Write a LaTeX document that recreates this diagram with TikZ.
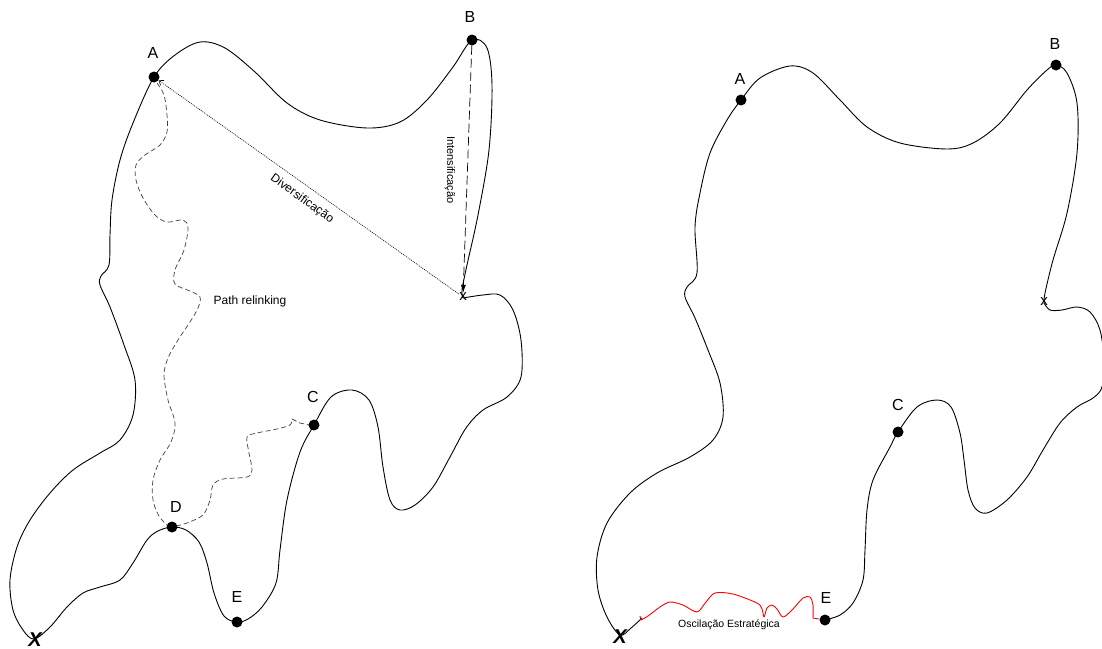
\documentclass[tikz,border=0pt]{standalone}
\usepackage{fontspec}
\setmainfont{Liberation Sans}
\usetikzlibrary{arrows.meta}
\begin{document}
\begin{tikzpicture}[x=1pt,y=-1pt,
  dotnode/.style={circle, fill=black, inner sep=0pt, minimum size=11pt},
  lbl/.style={font=\fontsize{16}{18}\selectfont, inner sep=0pt},
  xmark/.style={font=\fontsize{15}{16}\selectfont, inner sep=0pt},
  bigx/.style={font=\fontsize{20}{22}\selectfont\bfseries\itshape, inner sep=0pt},
  txt/.style={font=\fontsize{12}{14}\selectfont, inner sep=0pt},
  smalltxt/.style={font=\fontsize{10.5}{12}\selectfont, inner sep=0pt},
  outline/.style={line width=0.9pt, line join=round},
  relink/.style={black!75, line width=0.7pt, dash pattern=on 5pt off 3pt},
  intens/.style={line width=0.7pt, dash pattern=on 9pt off 4pt, -{Latex[length=8pt,width=5pt]}},
  divers/.style={line width=0.6pt, dash pattern=on 1pt off 1pt, -{Straight Barb[length=4pt,width=6pt]}},
  oscil/.style={red, line width=0.9pt, line join=round}]
\useasboundingbox (0,0) rectangle (1102,648);

% ---------------- left figure ----------------
\draw[outline] plot[smooth, tension=0.55] coordinates {
 (463,298) (483,295) (500,295) (513,310) (521,340) (521,377) (507,397) (483,410)
 (466,428) (450,457) (433,487) (415,505) (400,510) (390,500) (383,467) (378,427)
 (369,400) (352,390) (331,397) (314,425) (300,452) (287,500) (280,550) (276,583)
 (262,607) (248,619) (237,622) (224,616) (214,593) (207,563) (199,542) (186,530)
 (172,527) (158,531) (147,540) (133,563) (120,580) (100,587) (83,593) (67,607)
 (50,627) (34,639) (23,630) (13,610) (10,580) (17,547) (30,520) (50,493) (73,470)
 (100,453) (120,440) (133,415) (135,380) (124,345) (110,307) (100,285) (101,276)
 (109,265) (110,235) (112,200) (120,160) (133,123) (154,77) (175,55) (200,42)
 (225,48) (255,72) (287,103) (320,120) (367,128) (400,122) (427,100) (453,67)
 (472,40) (487,48) (492,85) (489,150) (478,215) (467,265) (462,290) (463,298)};

% path relinking A -> D
\draw[relink] plot[smooth, tension=0.55] coordinates {
 (157,83) (164,95) (167,115) (167,132) (160,145) (145,155) (136,165) (136,180)
 (143,198) (155,215) (167,222) (183,220) (188,228) (184,250) (175,270) (175,284)
 (190,291) (200,297) (198,308) (190,322) (178,340) (168,358) (164,375) (168,400)
 (175,423) (171,442) (160,460) (153,480) (153,500) (159,516) (168,526)};
% path relinking D -> C
\draw[relink] plot[smooth, tension=0.5] coordinates {
 (176,526) (187,523) (203,515) (210,500) (213,485) (223,479) (247,477) (252,470)
 (249,453) (247,437) (257,433) (277,429) (290,425) (292,419)};
\draw[relink] (292,419) -- (300,423) -- (309,425);

\node[dotnode] (LA) at (154,77) {};
\node[dotnode] (LB) at (472,40) {};
\node[dotnode] (LC) at (314,425) {};
\node[dotnode] (LD) at (172,527) {};
\node[dotnode] (LE) at (237,622) {};
\node[lbl] (LAl) at (153,53) {A};
\node[lbl] (LBl) at (470,17) {B};
\node[lbl] (LCl) at (313,397) {C};
\node[lbl] (LDl) at (176,507) {D};
\node[lbl] (LEl) at (237,597) {E};
\node[xmark] (Lx) at (463,297) {x};
\node[bigx] (LX) at (35,640) {X};

\draw[divers] (Lx) -- (LA);
\draw[intens] (LB) -- (Lx);
\node[txt, rotate=-35.6] (Ldiv) at (302,199) {Diversificação};
\node[txt, rotate=-90, font=\fontsize{11}{13}\selectfont] (Lint) at (450,170) {Intensificação};
\node[txt] (Lpr) at (250,301) {Path relinking};

% ---------------- right figure ----------------
\draw[outline] plot[smooth, tension=0.55] coordinates {
 (642,618) (631,628) (620,635) (607,617) (598,590) (597,557) (607,523) (630,493)
 (657,473) (690,457) (713,440) (723,417) (720,383) (708,350) (695,318) (685,297)
 (687,287) (697,273) (695,227) (700,193) (710,153) (727,120) (741,100) (760,78)
 (790,66) (813,73) (840,100) (867,127) (900,143) (947,149) (973,143) (1000,123)
 (1027,90) (1047,70) (1056,65) (1067,73) (1077,103) (1077,153) (1067,213)
 (1053,260) (1045,293) (1044,303)};
\draw[outline] plot[smooth, tension=0.55] coordinates {
 (1044,303) (1050,310) (1062,310) (1077,307) (1090,312) (1100,330) (1104,360)
 (1102,387) (1093,398) (1077,407) (1060,423) (1043,450) (1027,477) (1007,500)
 (987,513) (975,508) (968,490) (964,460) (960,433) (951,407) (937,400) (917,407)
 (898,432) (890,447) (873,480) (867,510) (865,550) (863,580) (853,603) (840,615)
 (825,620)};

% oscilacao estrategica
\draw[oscil] plot[smooth, tension=0.5] coordinates {
 (641,620) (648,616) (660,607) (670,602) (683,605) (697,612) (706,602) (715,593)
 (733,594) (757,603) (762,609) (764,617) (767,608) (772,605) (777,609) (783,617)
 (792,610) (803,598) (810,597) (813,605) (813,618)};
\draw[oscil] (813,618) -- (819,619);
\draw[oscil] (640,616) -- (641,620);

\node[dotnode] (RA) at (741,100) {};
\node[dotnode] (RB) at (1056,65) {};
\node[dotnode] (RC) at (898,432) {};
\node[dotnode] (RE) at (825,620) {};
\node[lbl] (RAl) at (740,79) {A};
\node[lbl] (RBl) at (1055,44) {B};
\node[lbl] (RCl) at (898,405) {C};
\node[lbl] (REl) at (826,598) {E};
\node[xmark] (Rx) at (1044,302) {x};
\node[bigx] (RX) at (620,637) {X};
\node[smalltxt] (Rosc) at (729,625) {Oscilação Estratégica};
\end{tikzpicture}
\end{document}
